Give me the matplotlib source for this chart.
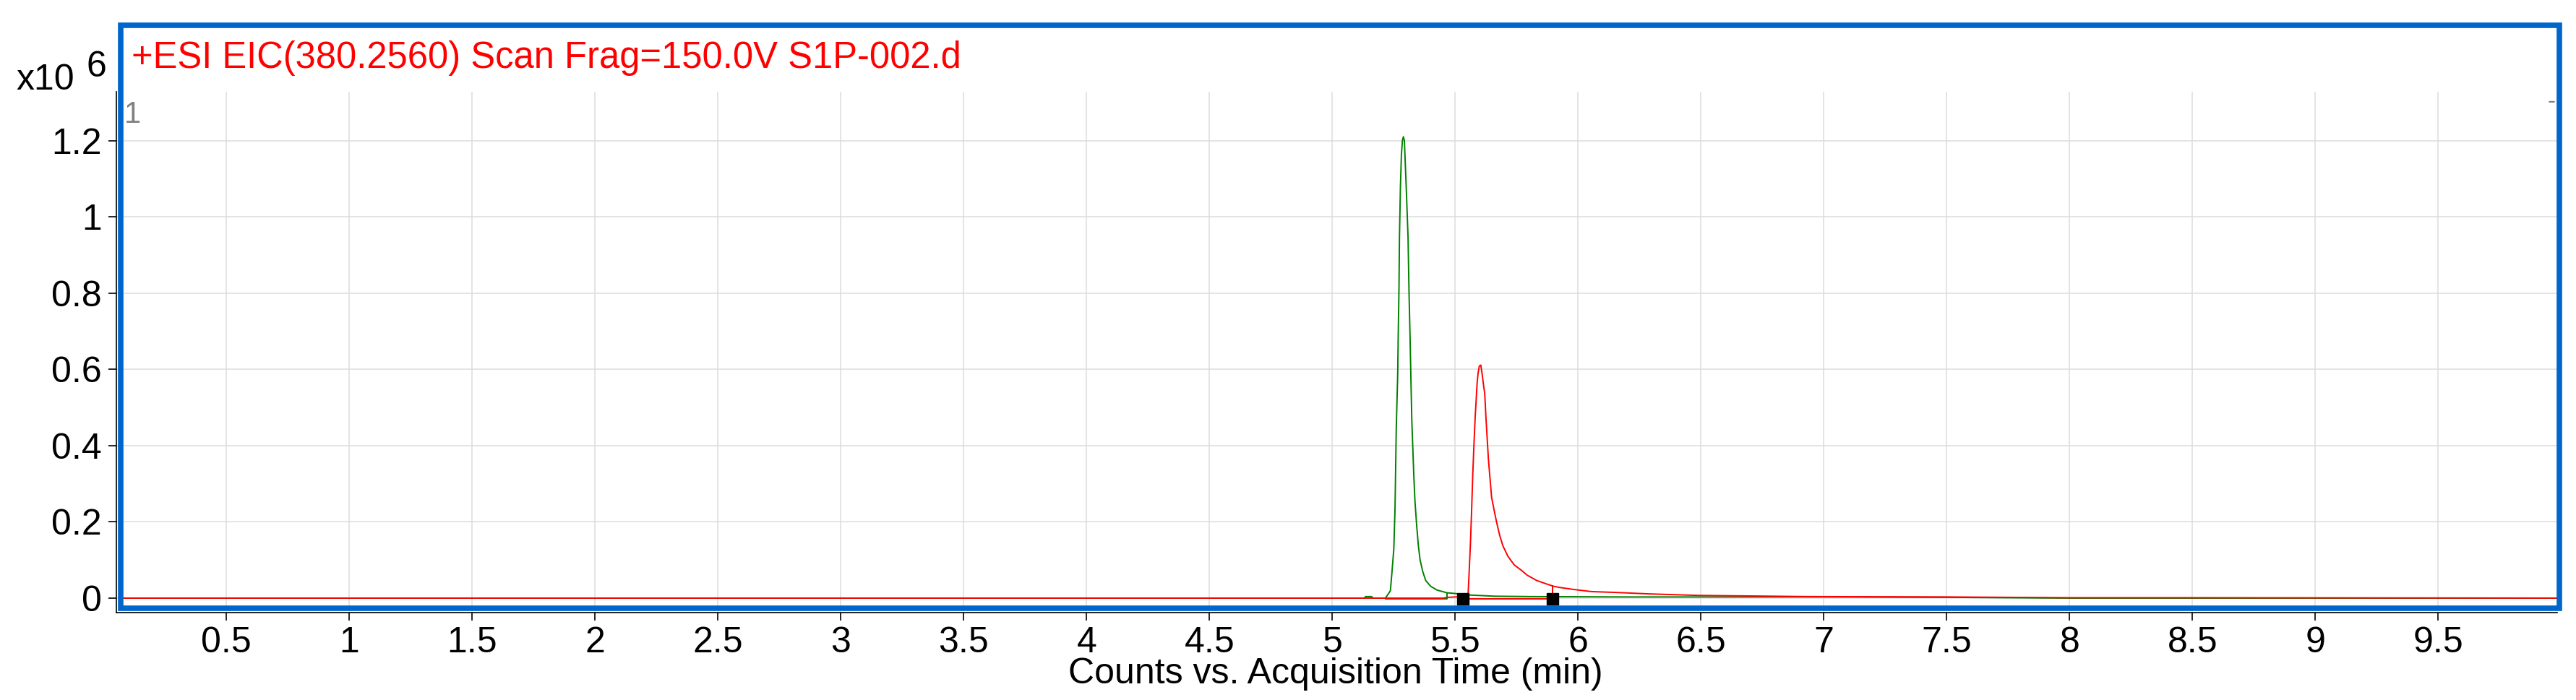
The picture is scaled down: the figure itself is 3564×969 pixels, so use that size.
import matplotlib
matplotlib.use("Agg")
import matplotlib.pyplot as plt
from matplotlib.patches import Rectangle

plt.rcParams['font.family'] = ['Liberation Sans', 'DejaVu Sans']

# EIC trace 1 (green), time in min, counts in 1e6
green_t = [0.07, 5.13, 5.135, 5.16, 5.165, 5.216, 5.236, 5.242, 5.250, 5.255, 5.260,
           5.266, 5.268, 5.271, 5.273, 5.277, 5.281, 5.285, 5.289, 5.293, 5.297,
           5.301, 5.308, 5.312, 5.316, 5.320, 5.323, 5.327, 5.331, 5.336, 5.343,
           5.350, 5.357, 5.368, 5.380, 5.400, 5.426, 5.466, 5.50, 5.56, 5.66,
           5.80, 6.2, 7.0, 7.5, 8.0, 9.99]
green_y = [0.0, 0.0, 0.004, 0.004, 0.0, 0.0, 0.019, 0.064, 0.128, 0.236, 0.445,
           0.59, 0.69, 0.81, 0.945, 1.08, 1.163, 1.20, 1.21, 1.20, 1.135,
           1.07, 0.945, 0.80, 0.69, 0.564, 0.473, 0.40, 0.328, 0.255, 0.191,
           0.137, 0.10, 0.069, 0.046, 0.031, 0.021, 0.014, 0.012, 0.008, 0.005,
           0.004, 0.003, 0.003, 0.002, 0.0, 0.0]

# EIC trace 2 (red)
red_t = [0.07, 5.45, 5.47, 5.552, 5.557, 5.562, 5.567, 5.571, 5.576, 5.581, 5.585,
         5.589, 5.593, 5.598, 5.604, 5.609, 5.614, 5.620, 5.625, 5.630, 5.635,
         5.642, 5.648, 5.659, 5.668, 5.681, 5.694, 5.714, 5.740, 5.767, 5.793,
         5.832, 5.872, 5.90, 5.924, 5.99, 6.056, 6.147, 6.29, 6.49, 6.93,
         7.5, 8.0, 8.5, 9.99]
red_y = [0.0, 0.0, 0.002, 0.005, 0.074, 0.146, 0.237, 0.319, 0.40, 0.473, 0.518,
         0.564, 0.59, 0.609, 0.611, 0.59, 0.564, 0.536, 0.473, 0.418, 0.364,
         0.31, 0.264, 0.228, 0.20, 0.164, 0.137, 0.11, 0.087, 0.074, 0.06,
         0.046, 0.037, 0.031, 0.028, 0.022, 0.017, 0.015, 0.011, 0.007, 0.004,
         0.003, 0.001, 0.001, 0.0]

# integration baselines and peak start/end markers
green_base_t = [5.216, 5.466, 5.466]
green_base_y = [-0.002, -0.002, 0.013]
red_base_t = [5.531, 5.897, 5.897]
red_base_y = [-0.002, -0.002, 0.032]
marker_t = [5.531, 5.897]
marker_y = [-0.002, -0.002]

xticks = [0.5, 1, 1.5, 2, 2.5, 3, 3.5, 4, 4.5, 5, 5.5, 6, 6.5, 7, 7.5, 8, 8.5, 9, 9.5]
xticklabels = ['0.5', '1', '1.5', '2', '2.5', '3', '3.5', '4', '4.5', '5', '5.5',
               '6', '6.5', '7', '7.5', '8', '8.5', '9', '9.5']
yticks = [0, 0.2, 0.4, 0.6, 0.8, 1.0, 1.2]
yticklabels = ['0', '0.2', '0.4', '0.6', '0.8', '1', '1.2']

title = '+ESI EIC(380.2560) Scan Frag=150.0V S1P-002.d'
xlabel = 'Counts vs. Acquisition Time (min)'

W, H = 3564, 969
fs = 36

fig = plt.figure(figsize=(W / 100, H / 100), dpi=100)
ax = fig.add_axes([161 / W, 1 - 848 / H, (3538 - 161) / W, (848 - 127) / H])
ax.set_xlim(0.052, 9.984)
ax.set_ylim(-0.038, 1.328)

ax.plot(green_t, green_y, color='#008000', lw=1.4, zorder=3)
ax.plot(red_t, red_y, color='#FF0000', lw=1.4, zorder=4)
ax.plot(green_base_t, green_base_y, color='#008000', lw=1.4, zorder=3)
ax.plot(red_base_t, red_base_y, color='#FF0000', lw=1.4, zorder=4)
ax.plot(marker_t, marker_y, 's', color='black', ms=12, zorder=5)

ax.set_xticks(xticks)
ax.set_xticklabels(xticklabels)
ax.set_yticks(yticks)
ax.set_yticklabels(yticklabels)
ax.tick_params(axis='both', labelsize=fs, length=8, width=1.2, color='black')
ax.tick_params(axis='x', pad=6)
ax.tick_params(axis='y', pad=6.5)
ax.grid(True, color='#DCDCDC', lw=1.1)
ax.set_axisbelow(True)
for side in ['top', 'right']:
    ax.spines[side].set_visible(False)
for side in ['left', 'bottom']:
    ax.spines[side].set_linewidth(1.2)

# blue frame around the chart area
fig.add_artist(Rectangle((167 / W, 1 - 842 / H), (3541 - 167) / W, (842 - 35) / H,
                         transform=fig.transFigure, fill=False,
                         edgecolor='#0066CC', lw=5.5, zorder=10))

fig.text(182 / W, 1 - 94 / H, title, color='#FF0000', fontsize=36.5, va='baseline')
fig.text(22 / W, 1 - 124 / H, 'x10', fontsize=fs, va='baseline')
fig.text(120 / W, 1 - 106 / H, '6', fontsize=fs, va='baseline')
fig.text(1848 / W, 1 - 946 / H, xlabel, fontsize=fs, ha='center', va='baseline')
fig.text(172 / W, 1 - 170 / H, '1', fontsize=30, color='#808080', va='baseline')
fig.text(3524 / W, 1 - 150 / H, '-', fontsize=24, color='#808080', va='baseline')

fig.savefig('out.png', dpi=100)
